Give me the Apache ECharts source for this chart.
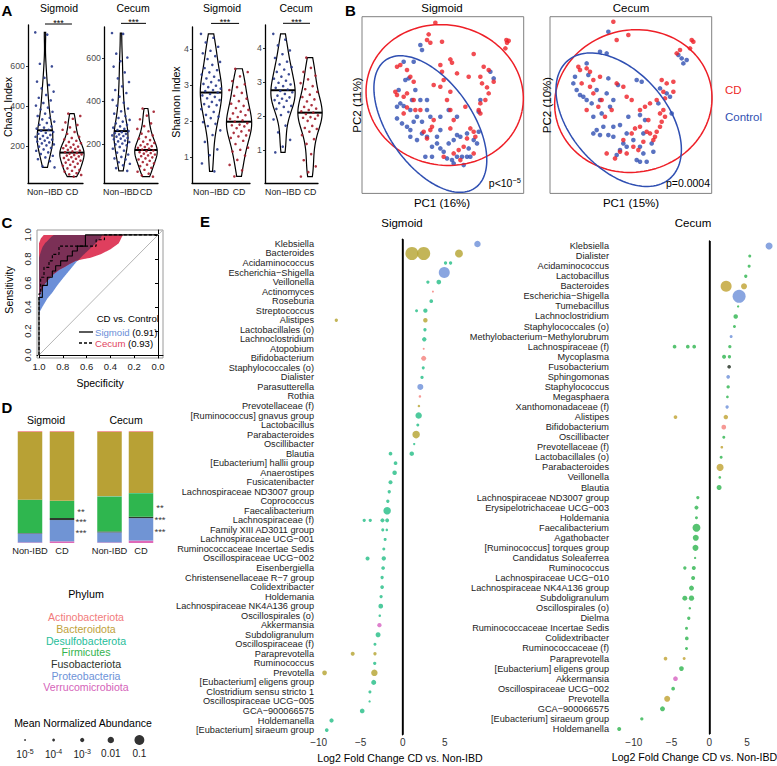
<!DOCTYPE html>
<html><head><meta charset="utf-8">
<script src="https://cdn.jsdelivr.net/npm/echarts@6/dist/echarts.min.js"></script>
<style>html,body{margin:0;padding:0;background:#fff}#c{width:777px;height:766px}</style>
</head><body><div id="c"></div>
<script>
// ================= DATA =================
const violinGroups = ['Non−IBD', 'CD'];
const chao1SigmoidNonIBD = [768,757,611,598,541,522,505,488,472,455,441,428,415,402,392,383,371,362,350,341,333,322,315,306,298,292,287,281,276,270,266,261,255,250,246,241,236,232,227,222,218,213,208,203,197,190,183,176,168,160,151,143,134,124,98,93];
const chao1SigmoidCD = [362,350,336,318,305,293,281,270,261,246,240,233,226,220,214,207,202,197,193,189,185,181,177,173,169,165,162,158,155,152,148,144,140,136,131,127,122,117,112,106,101,95,88,80,76,72,64,58,55,47];
const chao1CecumNonIBD = [716,712,620,602,585,560,533,505,488,468,451,437,420,405,392,378,365,352,341,330,321,312,304,296,289,282,276,270,265,260,255,250,247,245,240,237,234,228,225,222,216,212,209,202,198,194,186,178,169,160,151,140,133,128,115,108,101,88,75];
const chao1CecumCD = [365,350,332,315,296,283,270,259,248,240,232,225,218,211,205,199,194,190,186,182,178,174,170,166,162,158,155,151,147,143,138,133,128,122,116,110,104,97,89,80,71,62,54,48];
const shannonSigmoidNonIBD = [4.42,4.31,4.18,4.06,3.95,3.88,3.80,3.72,3.64,3.56,3.47,3.41,3.35,3.29,3.23,3.18,3.13,3.08,3.03,2.98,2.94,2.90,2.86,2.83,2.79,2.75,2.71,2.67,2.63,2.58,2.53,2.47,2.44,2.40,2.33,2.25,2.17,2.12,2.08,1.97,1.92,1.86,1.74,1.61,1.42,1.21,1.05,0.82,0.60];
const shannonSigmoidCD = [3.45,3.36,3.24,3.11,3.02,2.94,2.86,2.78,2.70,2.62,2.55,2.48,2.42,2.36,2.31,2.26,2.21,2.16,2.11,2.06,2.02,1.98,1.94,1.90,1.88,1.85,1.80,1.74,1.71,1.67,1.60,1.57,1.53,1.45,1.36,1.26,1.20,1.15,1.04,0.92,0.78,0.63,0.46];
const shannonCecumNonIBD = [4.42,4.25,4.08,3.93,3.82,3.71,3.60,3.52,3.44,3.37,3.30,3.23,3.16,3.10,3.04,2.98,2.93,2.88,2.83,2.78,2.74,2.70,2.65,2.60,2.55,2.51,2.47,2.45,2.38,2.30,2.27,2.21,2.12,2.03,1.90,1.72,1.52,1.30,1.10,0.93];
const shannonCecumCD = [3.72,3.58,3.42,3.30,3.19,3.08,2.97,2.88,2.79,2.71,2.63,2.56,2.49,2.43,2.37,2.32,2.27,2.22,2.18,2.14,2.10,2.06,2.02,1.97,1.95,1.92,1.86,1.79,1.71,1.65,1.62,1.54,1.44,1.32,1.18,1.05,0.88,0.70,0.52,0.35,0.22];
const chao1Ticks = [200, 400, 600];
const shannonTicks = [1, 2, 3, 4];

// PCoA scores (PC1, PC2), arbitrary units
const pcoaSigmoidCD = [[-22,247],[-42,212],[-37,187],[-47,195],[-2,190],[23,137],[28,127],[93,153],[191,195],[193,187],[198,193],[188,170],[-127,120],[-137,115],[-107,105],[-97,85],[-87,70],[-142,40],[-137,30],[-117,25],[-107,35],[-87,15],[-82,-15],[-67,-15],[-107,-7],[-117,-25],[-7,120],[-2,100],[-27,60],[3,75],[43,95],[-7,55],[23,40],[78,85],[113,85],[118,65],[133,53],[153,70],[138,35],[128,15],[113,5],[108,-15],[113,-25],[68,-5],[23,-15],[33,-45],[23,-70],[-27,-45],[-37,-75],[-32,-65],[83,-70],[93,-80],[98,-95],[73,-100],[63,-125],[48,-135],[33,-145],[3,-155],[53,-165],[93,-145],[-47,-100],[-57,-80],[13,15],[123,115],[138,105]];
const pcoaSigmoidControl = [[-67,180],[-62,165],[-117,130],[-87,130],[-112,75],[-102,80],[-132,45],[-127,5],[-137,-5],[-117,-3],[-92,15],[-97,-15],[-137,-40],[-122,-55],[-107,-65],[-87,-50],[-97,-95],[-77,-105],[-62,-85],[-47,-95],[-32,-125],[-17,-115],[-7,-130],[3,-140],[13,-160],[28,-165],[33,-175],[43,-155],[58,-155],[73,-155],[63,-180],[83,-155],[93,-105],[78,-130],[-62,-50],[-77,-35],[-47,-15],[-37,-35],[-67,15],[-82,45],[-47,15],[-17,-95],[-7,-75],[18,-15],[43,-35],[43,-90],[-7,-35],[73,-85],[108,-80],[103,-115],[113,15],[153,80],[143,100],[108,-20],[18,-115],[-32,-155],[-52,-155],[33,-105],[53,-95],[-97,-75]];
const pcoaCecumCD = [[-52,250],[-7,210],[-42,195],[138,155],[183,195],[188,190],[178,170],[148,165],[-157,115],[-152,105],[-132,110],[-122,100],[-112,75],[-147,65],[-122,55],[-92,85],[-112,35],[-87,15],[-97,-5],[-132,-15],[-77,-35],[-57,-15],[-42,65],[-22,55],[-12,25],[3,15],[28,-15],[43,-5],[58,5],[78,15],[93,75],[108,65],[98,40],[128,70],[128,40],[103,20],[98,-15],[88,-25],[103,-35],[93,-50],[88,-65],[78,-80],[73,-95],[58,-85],[48,-80],[13,-70],[3,-85],[-22,-105],[8,-125],[23,-135],[38,-110],[-32,-140],[-47,-160],[-12,-145],[-72,-145],[53,-45],[68,-105],[28,-65]];
const pcoaCecumControl = [[-67,220],[-92,160],[-72,155],[-132,125],[-127,90],[-172,65],[-162,45],[-152,30],[-142,25],[-132,15],[-117,5],[-167,85],[-102,45],[-67,80],[-38,60],[18,75],[33,70],[88,50],[108,35],[118,25],[123,-25],[83,5],[43,-45],[28,-30],[-7,-35],[-32,-60],[-52,-65],[-82,-65],[-102,-75],[-112,-85],[-92,-90],[-67,-90],[-52,-95],[-22,-115],[-12,-125],[-32,-135],[-42,-150],[28,-125],[38,-145],[48,-170],[68,-140],[63,-115],[38,-85],[8,-105],[-12,-85],[143,150],[153,140],[158,125],[168,135],[-112,-35],[-87,-25],[-62,-5],[18,-165],[28,-170],[-72,35],[-92,15],[-52,15]];
// 95% ellipses: [centerPC1, centerPC2, semiMajor, semiMinor, angleDeg]
const ellipseSigmoidCD = [6, 30, 237, 210, -12];
const ellipseSigmoidControl = [-37, -57, 234, 126, -55];
const ellipseCecumCD = [8, 12, 237, 213, 12];
const ellipseCecumControl = [-36, -44, 234, 144, -49];

// ROC: [specificity, sensitivity]
const rocSigmoid = [[1,0],[1,0.48],[0.972,0.48],[0.972,0.58],[0.93,0.58],[0.93,0.648],[0.888,0.648],[0.888,0.70],[0.86,0.70],[0.86,0.743],[0.818,0.743],[0.818,0.784],[0.762,0.784],[0.762,0.825],[0.72,0.825],[0.72,0.866],[0.678,0.866],[0.678,0.907],[0.61,0.907],[0.61,1],[0,1]];
const rocCecum = [[1,0],[1,0.51],[0.986,0.51],[0.986,0.648],[0.958,0.648],[0.958,0.73],[0.916,0.73],[0.916,0.784],[0.888,0.784],[0.888,0.838],[0.832,0.838],[0.832,0.907],[0.52,0.907],[0.52,0.96],[0.45,0.96],[0.45,1],[0,1]];
const ciSigmoidUpper = [[1,0.81],[0.985,0.86],[0.97,0.90],[0.95,0.93],[0.92,0.96],[0.89,0.99],[0.875,1],[0,1]];
const ciSigmoidLower = [[1,0.35],[0.972,0.40],[0.93,0.47],[0.888,0.52],[0.846,0.58],[0.79,0.65],[0.748,0.70],[0.69,0.77],[0.62,0.84],[0.55,0.905],[0.48,0.975],[0.47,1],[0,1]];
const ciCecumUpper = [[1,0.93],[0.985,0.97],[0.96,1],[0,1]];
const ciCecumLower = [[1,0.48],[0.985,0.52],[0.96,0.58],[0.92,0.63],[0.875,0.675],[0.83,0.71],[0.79,0.73],[0.74,0.76],[0.69,0.785],[0.62,0.80],[0.566,0.81],[0.48,0.84],[0.40,0.88],[0.33,0.93],[0.30,0.99],[0.29,1],[0,1]];
const aucSigmoid = '0.91', aucCecum = '0.93';
const rocTicks = [0, 0.2, 0.4, 0.6, 0.8, 1.0];

// Phylum composition (fractions)
const phylumNames = ['Actinobacteriota','Bacteroidota','Desulfobacterota','Firmicutes','Fusobacteriota','Proteobacteria','Verrucomicrobiota'];
const barGroups = ['Non-IBD', 'CD'];
const phylaSigmoidNonIBD = [0.008,0.605,0.003,0.295,0.004,0.080,0.005];
const phylaSigmoidCD = [0.008,0.615,0.002,0.152,0.018,0.190,0.015];
const phylaCecumNonIBD = [0.008,0.575,0.004,0.310,0.008,0.090,0.005];
const phylaCecumCD = [0.008,0.545,0.003,0.210,0.012,0.200,0.022];
const signifPhyla = [3, 4, 5];
const signifStars = ['**', '***', '***'];

// Size legend levels
const abundanceLevels = [1e-5, 1e-4, 1e-3, 0.01, 0.1];
const abundanceLabels = ['10{s|-5}', '10{s|-4}', '10{s|-3}', '0.01', '0.1'];

// Differential abundance: [taxonIndex, log2FC, meanAbundance, phylumCode]
const sigmoidTaxa = ['Klebsiella','Bacteroides','Acidaminococcus','Escherichia−Shigella','Veillonella','Actinomyces','Roseburia','Streptococcus','Alistipes','Lactobacillales (o)','Lachnoclostridium','Atopobium','Bifidobacterium','Staphylococcales (o)','Dialister','Parasutterella','Rothia','Prevotellaceae (f)','[Ruminococcus] gnavus group','Lactobacillus','Parabacteroides','Oscillibacter','Blautia','[Eubacterium] hallii group','Anaerostipes','Fusicatenibacter','Lachnospiraceae ND3007 group','Coprococcus','Faecalibacterium','Lachnospiraceae (f)','Family XIII AD3011 group','Lachnospiraceae UCG−001','Ruminococcaceae Incertae Sedis','Oscillospiraceae UCG−002','Eisenbergiella','Christensenellaceae R−7 group','Colidextribacter','Holdemania','Lachnospiraceae NK4A136 group','Oscillospirales (o)','Akkermansia','Subdoligranulum','Oscillospiraceae (f)','Paraprevotella','Ruminococcus','Prevotella','[Eubacterium] eligens group','Clostridium sensu stricto 1','Oscillospiraceae UCG−005','GCA−900066575','Holdemanella','[Eubacterium] siraeum group'];
const sigmoidPoints = [[0,8.9,0.01,'P'],[1,1.1,0.45,'B'],[1,2.5,0.45,'B'],[1,6.7,0.03,'B'],[2,5.1,2.7e-4,'F'],[2,5.7,2.7e-4,'F'],[3,4.95,0.18,'P'],[4,3.0,2.7e-4,'F'],[4,4.3,1.8e-3,'F'],[5,3.6,1.8e-5,'A'],[6,3.4,4.9e-4,'F'],[7,1.65,1.6e-4,'F'],[7,2.7,1.1e-3,'F'],[8,-7.9,2.7e-4,'B'],[8,2.7,1.4e-3,'B'],[9,2.65,2.7e-4,'F'],[10,2.57,1.1e-3,'F'],[11,2.5,1.8e-5,'A'],[12,2.5,2.5e-3,'A'],[13,2.45,1.6e-4,'F'],[14,2.3,2.7e-4,'F'],[15,2.1,6.8e-3,'P'],[16,2.05,6e-5,'A'],[17,1.93,6e-5,'B'],[18,1.9,0.01,'F'],[19,1.8,1.6e-4,'F'],[20,1.6,0.023,'B'],[21,1.37,3.8e-5,'F'],[22,1.08,1.4e-3,'F'],[22,-1.45,4.9e-4,'F'],[23,-0.85,4.9e-4,'F'],[24,-0.96,1.4e-3,'F'],[25,-1.45,7.5e-4,'F'],[26,-1.6,2.7e-4,'F'],[27,-1.77,2.7e-4,'F'],[28,-1.85,0.023,'F'],[29,-4.58,2.7e-4,'F'],[29,-3.86,2.7e-4,'F'],[29,-2.41,7.5e-4,'F'],[29,-1.85,7.5e-4,'F'],[30,-2.37,1.6e-4,'F'],[30,-1.89,6e-5,'F'],[31,-2.09,1.6e-4,'F'],[32,-2.25,1.6e-4,'F'],[33,-4.18,7.5e-4,'F'],[33,-2.25,1.1e-3,'F'],[34,-2.33,4.9e-4,'F'],[35,-2.45,2.7e-4,'F'],[36,-2.45,4.9e-4,'F'],[37,-2.57,2.7e-4,'F'],[38,-2.61,1.8e-3,'F'],[39,-2.73,6e-5,'F'],[40,-2.77,1.1e-3,'V'],[41,-2.93,2.5e-3,'F'],[42,-3.3,1.6e-4,'F'],[43,-5.95,7.5e-4,'B'],[43,-3.3,2.7e-4,'B'],[44,-3.33,2.7e-4,'F'],[45,-9.3,1.8e-3,'B'],[45,-3.37,0.01,'B'],[46,-3.45,2.5e-3,'F'],[47,-3.9,1.6e-4,'F'],[48,-3.94,3.8e-5,'F'],[49,-4.82,1.8e-3,'F'],[50,-8.47,1.1e-3,'F'],[51,-9.04,4.9e-4,'F']];
const cecumTaxa = ['Klebsiella','Dialister','Acidaminococcus','Lactobacillus','Bacteroides','Escherichia−Shigella','Tumebacillus','Lachnoclostridium','Staphylococcales (o)','Methylobacterium−Methylorubrum','Lachnospiraceae (f)','Mycoplasma','Fusobacterium','Sphingomonas','Staphylococcus','Megasphaera','Xanthomonadaceae (f)','Alistipes','Bifidobacterium','Oscillibacter','Prevotellaceae (f)','Lactobacillales (o)','Parabacteroides','Veillonella','Blautia','Lachnospiraceae ND3007 group','Erysipelotrichaceae UCG−003','Holdemania','Faecalibacterium','Agathobacter','[Ruminococcus] torques group','Candidatus Soleaferrea','Ruminococcus','Lachnospiraceae UCG−010','Lachnospiraceae NK4A136 group','Subdoligranulum','Oscillospirales (o)','Dielma','Ruminococcaceae Incertae Sedis','Colidextribacter','Ruminococcaceae (f)','Paraprevotella','[Eubacterium] eligens group','Akkermansia','Oscillospiraceae UCG−002','Prevotella','GCA−900066575','[Eubacterium] siraeum group','Holdemanella'];
const cecumPoints = [[0,7.92,0.016,'P'],[1,5.36,1.6e-4,'F'],[2,5.28,1.6e-4,'F'],[3,4.83,2.7e-4,'F'],[4,2.23,0.18,'B'],[4,4.6,6.8e-3,'B'],[5,3.95,0.45,'P'],[6,3.82,3.8e-5,'F'],[7,3.5,1.4e-3,'F'],[8,3.33,1.6e-4,'F'],[9,2.89,1.6e-4,'P'],[10,-4.6,4.9e-4,'F'],[10,-2.85,4.9e-4,'F'],[10,-2.0,4.9e-4,'F'],[10,2.72,2.7e-4,'F'],[11,1.96,7.5e-4,'F'],[11,2.67,2.7e-4,'F'],[12,2.63,4.9e-4,'U'],[13,2.5,4.9e-4,'P'],[14,2.5,2.7e-4,'F'],[15,2.4,9e-5,'F'],[16,2.36,2.7e-4,'P'],[17,-4.48,4.9e-4,'B'],[17,2.19,1.4e-3,'B'],[18,1.92,1.8e-3,'A'],[19,1.92,1.6e-4,'F'],[20,1.66,9e-5,'B'],[21,1.57,1.6e-4,'F'],[22,1.43,0.016,'B'],[23,1.39,9e-5,'F'],[24,1.3,2.5e-3,'F'],[25,-1.52,2.7e-4,'F'],[26,-1.7,7.5e-4,'F'],[27,-1.7,1.6e-4,'F'],[28,-1.7,0.03,'F'],[29,-1.79,6.8e-3,'F'],[30,-1.83,6.8e-3,'F'],[31,-1.88,3.8e-5,'F'],[32,-3.24,2.7e-4,'F'],[32,-2.05,7.5e-4,'F'],[33,-2.14,7.5e-4,'F'],[34,-2.36,2.5e-3,'F'],[35,-3.24,2.5e-3,'F'],[35,-2.36,3.5e-3,'F'],[36,-2.58,6e-5,'F'],[37,-2.72,2.7e-4,'F'],[38,-3.02,1.6e-4,'F'],[39,-2.98,4.9e-4,'F'],[40,-3.02,1.6e-4,'F'],[41,-5.8,4.9e-4,'B'],[41,-3.33,1.6e-4,'B'],[42,-3.69,1.8e-3,'F'],[43,-4.48,1.8e-3,'V'],[44,-4.79,4.9e-4,'F'],[45,-5.58,6.8e-3,'B'],[46,-6.2,2.5e-3,'F'],[47,-8.94,2.7e-4,'F'],[48,-11.94,7.5e-4,'F']];
const lfcTicks = [-10, -5, 0, 5];

// ================= STYLE / HELPERS =================
const F = "Arial, 'Liberation Sans', Helvetica, sans-serif";
const phylumIndex = {A:0, B:1, D:2, F:3, U:4, P:5, V:6};
const legendColors = ['#f27b7b','#c0a23a','#1fbd9a','#33b34d','#2b332b','#6d92d8','#d563b9'];
const barColors = ['#f09090','#b8a135','#1fbf98','#2fb64f','#2d3a2d','#7094d4','#e069b8'];
const sigmoidPalette = ['#f47f7a','#b4a22e','#1fbf98','#22bd85','#2a3528','#6b8fd8','#d660c0'];
const cecumPalette = ['#f47f7a','#bfa12f','#1fbf98','#2db44d','#1d2a1d','#6b8fd8','#d660c0'];
const sizeOf = a => 1.8 * Math.pow(1.53, Math.log10(a) + 5);

const grids = [], xAxes = [], yAxes = [], series = [], graphics = [];
function addGrid(g, x, y) {
  grids.push(Object.assign({outerBoundsMode: 'none', containLabel: false}, g));
  const i = grids.length - 1;
  xAxes.push(Object.assign({gridIndex: i}, x));
  yAxes.push(Object.assign({gridIndex: i}, y));
  return i;
}
function T(text, x, y, o) {
  o = o || {};
  graphics.push({type: 'text', x: x, y: y, rotation: o.rot || 0, z: 50,
    style: {text: text, fill: o.color || '#000', fontSize: o.size || 10, fontFamily: F,
      fontWeight: o.bold ? 'bold' : 'normal', align: o.align || 'center', verticalAlign: o.va || 'middle', rich: o.rich}});
}
function quantile(s, p) { const h = (s.length - 1) * p, lo = Math.floor(h); const hi = Math.min(lo + 1, s.length - 1); return s[lo] + (h - lo) * (s[hi] - s[lo]); }
function kde(vals, m) {
  const s = vals.slice().sort((a, b) => a - b), n = s.length;
  const mean = s.reduce((a, b) => a + b, 0) / n;
  const sd = Math.sqrt(s.reduce((a, b) => a + (b - mean) * (b - mean), 0) / (n - 1));
  const iqr = quantile(s, 0.75) - quantile(s, 0.25);
  const bw = 0.9 * Math.min(sd, iqr / 1.34) * Math.pow(n, -0.2);
  const out = [];
  for (let i = 0; i <= m; i++) {
    const y = s[0] + (s[n - 1] - s[0]) * i / m; let d = 0;
    for (const v of s) { const z = (y - v) / bw; d += Math.exp(-0.5 * z * z); }
    out.push([y, d / (n * bw * Math.sqrt(2 * Math.PI))]);
  }
  return {prof: out, median: quantile(s, 0.5)};
}
function interpProf(prof, y) {
  for (let i = 0; i < prof.length - 1; i++) if (y >= prof[i][0] && y <= prof[i + 1][0]) {
    const t = (y - prof[i][0]) / (prof[i + 1][0] - prof[i][0]); return prof[i][1] + t * (prof[i + 1][1] - prof[i][1]); }
  return 0;
}
const LBL = {hideOverlap: false, showMinLabel: true, showMaxLabel: true};

// ================= PANEL A: violins =================
const violinPanels = [
  {g: {left: 28, top: 25, width: 55, height: 158}, x: [0.37, 2.41], y: [15, 805], ticks: chao1Ticks, groups: [chao1SigmoidNonIBD, chao1SigmoidCD], sig: 810},
  {g: {left: 104, top: 27, width: 54, height: 156}, x: [0.32, 2.48], y: [18.6, 744], ticks: chao1Ticks, groups: [chao1CecumNonIBD, chao1CecumCD], sig: 761},
  {g: {left: 192, top: 27, width: 58, height: 156}, x: [0.32, 2.39], y: [0.278, 4.61], ticks: shannonTicks, groups: [shannonSigmoidNonIBD, shannonSigmoidCD], sig: 4.71},
  {g: {left: 265, top: 25, width: 53, height: 158}, x: [0.333, 2.296], y: [0.03, 4.68], ticks: shannonTicks, groups: [shannonCecumNonIBD, shannonCecumCD], sig: 4.73}
];
const pointColors = ['#27388a', '#a31d2b'];
violinPanels.forEach(p => {
  const gi = addGrid(p.g,
    {type: 'value', min: p.x[0], max: p.x[1], splitLine: {show: false},
     axisLine: {lineStyle: {color: '#000', width: 1.3}}, axisTick: {show: false},
     axisLabel: Object.assign({customValues: [1, 2], formatter: v => violinGroups[Math.round(v) - 1], color: '#1a1a1a', fontSize: 8.8, fontFamily: F, margin: 4}, LBL)},
    {type: 'value', min: p.y[0], max: p.y[1], splitLine: {show: false},
     axisLine: {show: true, lineStyle: {color: '#000', width: 1.3}},
     axisTick: {show: true, length: 2, customValues: p.ticks, lineStyle: {color: '#333'}},
     axisLabel: Object.assign({customValues: p.ticks, color: '#4d4d4d', fontSize: 8.8, fontFamily: F, margin: 3}, LBL)});
  const ks = p.groups.map(v => kde(v, 120));
  const maxD = Math.max(...ks.map(k => Math.max(...k.prof.map(q => q[1]))));
  const vio = ks.map(k => ({prof: k.prof.map(q => [q[0], 0.45 * q[1] / maxD]), median: k.median}));
  series.push({type: 'custom', xAxisIndex: gi, yAxisIndex: gi, clip: false, z: 2, silent: true,
    data: [[0, vio[0].median], [1, vio[1].median]],
    renderItem: (params, api) => {
      const g = api.value(0), v = vio[g], c = g + 1;
      const L = v.prof.map(q => api.coord([c - q[1], q[0]]));
      const R = v.prof.map(q => api.coord([c + q[1], q[0]])).reverse();
      const mw = interpProf(v.prof, v.median);
      const m1 = api.coord([c - mw, v.median]), m2 = api.coord([c + mw, v.median]);
      return {type: 'group', children: [
        {type: 'polygon', shape: {points: L.concat(R)}, style: {fill: 'rgba(255,255,255,0)', stroke: '#000', lineWidth: 1.2}},
        {type: 'line', shape: {x1: m1[0], y1: m1[1], x2: m2[0], y2: m2[1]}, style: {stroke: '#000', lineWidth: 2}}
      ]};
    }});
  p.groups.forEach((vals, g) => {
    series.push({type: 'scatter', xAxisIndex: gi, yAxisIndex: gi, z: 3, silent: true, symbolSize: 2.6,
      itemStyle: {color: pointColors[g], opacity: 0.9},
      data: vals.map((v, i) => [g + 1 + (((i * 0.6180339887 + 0.31 * g) % 1) * 2 - 1) * 0.36, v])});
  });
  series.push({type: 'custom', xAxisIndex: gi, yAxisIndex: gi, clip: false, silent: true, z: 4,
    data: [[1, 2, p.sig]],
    renderItem: (params, api) => {
      const a = api.coord([api.value(0), api.value(2)]), b = api.coord([api.value(1), api.value(2)]);
      return {type: 'group', children: [
        {type: 'line', shape: {x1: a[0], y1: a[1], x2: b[0], y2: b[1]}, style: {stroke: '#000', lineWidth: 1}},
        {type: 'text', x: (a[0] + b[0]) / 2, y: a[1] + 3, style: {text: '***', fontSize: 9, fontFamily: F, fill: '#000', align: 'center', verticalAlign: 'bottom'}}
      ]};
    }});
});

// ================= PANEL B: PCoA =================
function ellipsePts(e) {
  const [cx, cy, a, b, deg] = e, th = deg * Math.PI / 180, pts = [];
  for (let i = 0; i <= 120; i++) { const t = i / 120 * 2 * Math.PI;
    pts.push([cx + a * Math.cos(t) * Math.cos(th) - b * Math.sin(t) * Math.sin(th), cy + a * Math.cos(t) * Math.sin(th) + b * Math.sin(t) * Math.cos(th)]); }
  return pts;
}
const cdRed = '#ee1f27', ctlBlue = '#2f4fb2';
[[362, pcoaSigmoidCD, pcoaSigmoidControl, ellipseSigmoidCD, ellipseSigmoidControl],
 [550, pcoaCecumCD, pcoaCecumControl, ellipseCecumCD, ellipseCecumControl]].forEach(([left, cd, ctl, eCD, eCtl]) => {
  const gi = addGrid({left: left, top: 16.7, width: 161.7, height: 176.7, show: true, borderColor: '#808080', borderWidth: 1},
    {type: 'value', min: -242, max: 243, show: true, axisLine: {show: false}, axisTick: {show: false}, axisLabel: {show: false}, splitLine: {show: false}},
    {type: 'value', min: -265, max: 265, show: true, axisLine: {show: false}, axisTick: {show: false}, axisLabel: {show: false}, splitLine: {show: false}});
  series.push({type: 'scatter', xAxisIndex: gi, yAxisIndex: gi, symbolSize: 4.6, itemStyle: {color: ctlBlue}, data: ctl, silent: true});
  series.push({type: 'scatter', xAxisIndex: gi, yAxisIndex: gi, symbolSize: 4.6, itemStyle: {color: cdRed}, data: cd, silent: true});
  series.push({type: 'line', xAxisIndex: gi, yAxisIndex: gi, showSymbol: false, silent: true, lineStyle: {color: cdRed, width: 1.5}, data: ellipsePts(eCD)});
  series.push({type: 'line', xAxisIndex: gi, yAxisIndex: gi, showSymbol: false, silent: true, lineStyle: {color: ctlBlue, width: 1.5}, data: ellipsePts(eCtl)});
});

// ================= PANEL C: ROC =================
function interpDesc(arr, s) {
  for (let i = 0; i < arr.length - 1; i++) { const [s0, v0] = arr[i], [s1, v1] = arr[i + 1];
    if (s <= s0 && s >= s1) { if (s0 === s1) return Math.max(v0, v1); return v0 + (v1 - v0) * (s - s0) / (s1 - s0); } }
  return arr[arr.length - 1][1];
}
const rocX = [-0.042, 1.0168], rocY = [-0.0246, 1.041];
const rocGi = addGrid({left: 37, top: 230, width: 126, height: 128, show: true, borderColor: '#9a9a9a', borderWidth: 1},
  {type: 'value', inverse: true, min: rocX[0], max: rocX[1], splitLine: {show: false},
   axisLine: {lineStyle: {color: '#000', width: 1}}, axisTick: {customValues: rocTicks, length: 3, lineStyle: {color: '#000'}},
   axisLabel: Object.assign({customValues: rocTicks, formatter: v => v.toFixed(1), color: '#1a1a1a', fontSize: 9.5, fontFamily: F, margin: 3}, LBL)},
  {type: 'value', min: rocY[0], max: rocY[1], splitLine: {show: false},
   axisLine: {show: true, lineStyle: {color: '#000', width: 1}}, axisTick: {show: true, customValues: rocTicks, length: 3, lineStyle: {color: '#000'}},
   axisLabel: Object.assign({customValues: rocTicks, formatter: v => v.toFixed(1), rotate: 90, color: '#1a1a1a', fontSize: 9.5, fontFamily: F, margin: 5}, LBL)});
series.push({type: 'custom', xAxisIndex: rocGi, yAxisIndex: rocGi, silent: true, z: 1, data: [[0.5, 0.5]],
  renderItem: (params, api) => {
    const specs = []; for (let s = 1; s >= -0.0001; s -= 0.002) specs.push(Math.max(s, 0));
    const poly = (up, lo) => specs.map(s => api.coord([s, up(s)])).concat(specs.slice().reverse().map(s => api.coord([s, lo(s)])));
    const bU = s => interpDesc(ciSigmoidUpper, s), bL = s => interpDesc(ciSigmoidLower, s);
    const rU = s => interpDesc(ciCecumUpper, s), rL = s => interpDesc(ciCecumLower, s);
    return {type: 'group', children: [
      {type: 'polygon', shape: {points: poly(bU, bL)}, style: {fill: '#6b8fd8'}},
      {type: 'polygon', shape: {points: poly(rU, rL)}, style: {fill: '#df3f5e'}},
      {type: 'polygon', shape: {points: poly(s => Math.min(bU(s), rU(s)), s => Math.min(Math.max(bL(s), rL(s)), Math.min(bU(s), rU(s))))}, style: {fill: '#7b3056'}}
    ]};
  }});
series.push({type: 'line', xAxisIndex: rocGi, yAxisIndex: rocGi, showSymbol: false, silent: true, z: 2,
  lineStyle: {color: '#b5b5b5', width: 1}, data: [[rocX[1], 1 - rocX[1]], [rocX[0], 1 - rocX[0]]]});
series.push({type: 'line', xAxisIndex: rocGi, yAxisIndex: rocGi, showSymbol: false, silent: true, z: 3,
  lineStyle: {color: '#000', width: 1.1}, data: rocSigmoid});
series.push({type: 'line', xAxisIndex: rocGi, yAxisIndex: rocGi, showSymbol: false, silent: true, z: 3,
  lineStyle: {color: '#000', width: 1.1, type: [3, 2]}, data: rocCecum});

// ================= PANEL D: stacked bars =================
[[14, 64, phylaSigmoidNonIBD, phylaSigmoidCD, 'sig'], [93.75, 63, phylaCecumNonIBD, phylaCecumCD, 'cec']].forEach(([left, width, non, cd, stk]) => {
  const gi = addGrid({left: left, top: 431, width: width, height: 112},
    {type: 'category', data: barGroups, axisLine: {show: false}, axisTick: {show: false},
     axisLabel: Object.assign({interval: 0, color: '#1a1a1a', fontSize: 9.3, fontFamily: F, margin: 3}, LBL)},
    {type: 'value', min: 0, max: 1, show: false});
  for (let k = phylumNames.length - 1; k >= 0; k--) {
    series.push({type: 'bar', name: phylumNames[k], xAxisIndex: gi, yAxisIndex: gi, stack: stk, barWidth: 24.5, silent: true,
      itemStyle: {color: barColors[k]}, data: [non[k], cd[k]]});
  }
  const starData = signifPhyla.map((k, j) => {
    let below = 0; for (let q = k + 1; q < phylumNames.length; q++) below += cd[q];
    return {value: [1, below + cd[k] / 2], label: {show: true, formatter: signifStars[j]}};
  });
  series.push({type: 'scatter', xAxisIndex: gi, yAxisIndex: gi, symbolSize: 2, itemStyle: {color: 'rgba(0,0,0,0)'}, silent: true, z: 5,
    label: {show: true, position: [20, 3], align: 'center', verticalAlign: 'middle', fontSize: 9.5, fontFamily: F, color: '#000'},
    labelLayout: {hideOverlap: false}, data: starData});
});

// size legend
const szGi = addGrid({left: 10.7, top: 735, width: 143, height: 10},
  {type: 'category', data: abundanceLabels, axisLine: {show: false}, axisTick: {show: false},
   axisLabel: Object.assign({interval: 0, color: '#1a1a1a', fontSize: 10, fontFamily: F, margin: 3, rich: {s: {fontSize: 7, verticalAlign: 'top', fontFamily: F, color: '#1a1a1a', padding: [0, 0, 5, 0]}}}, LBL)},
  {type: 'value', min: -1, max: 1, show: false});
series.push({type: 'scatter', xAxisIndex: szGi, yAxisIndex: szGi, silent: true, itemStyle: {color: '#000'},
  data: abundanceLevels.map((a, i) => ({value: [i, 0], symbolSize: sizeOf(a)}))});

// ================= PANEL E: dot plots =================
[[317, 239.2, 166, 495.6, -10.2, 9.56, sigmoidTaxa, sigmoidPoints, sigmoidPalette],
 [612, 241, 165, 493, -12.89, 8.97, cecumTaxa, cecumPoints, cecumPalette]].forEach(([left, top, width, height, xmin, xmax, taxa, pts, pal]) => {
  const gi = addGrid({left: left, top: top, width: width, height: height},
    {type: 'value', min: xmin, max: xmax, splitLine: {show: false},
     axisLine: {lineStyle: {color: '#000', width: 1.3}}, axisTick: {customValues: lfcTicks, length: 3, lineStyle: {color: '#333'}},
     axisLabel: Object.assign({customValues: lfcTicks, formatter: v => (v < 0 ? '−' + Math.abs(v) : String(v)), color: '#333', fontSize: 10, fontFamily: F, margin: 3}, LBL),
     name: 'Log2 Fold Change CD vs. Non-IBD', nameLocation: 'middle', nameGap: 17, nameTextStyle: {color: '#000', fontSize: 10.6, fontFamily: F}},
    {type: 'category', data: taxa, inverse: true, splitLine: {show: false},
     axisLine: {lineStyle: {color: '#000', width: 1.3}}, axisTick: {alignWithLabel: true, length: 2.5, lineStyle: {color: '#333'}},
     axisLabel: Object.assign({interval: 0, color: '#222', fontSize: 9.2, fontFamily: F, margin: 3}, LBL)});
  const sorted = pts.slice().sort((a, b) => b[2] - a[2]);
  series.push({type: 'scatter', xAxisIndex: gi, yAxisIndex: gi, silent: true, z: 3,
    data: sorted.map(p => ({value: [p[1], p[0]], symbolSize: sizeOf(p[2]), itemStyle: {color: pal[phylumIndex[p[3]]]}})),
    markLine: {silent: true, symbol: ['none', 'none'], label: {show: false}, lineStyle: {color: '#000', width: 1.5, type: 'solid'}, data: [{xAxis: 0}]}});
});

// ================= TEXT =================
T('A', 7, 10, {size: 15, bold: true}); T('B', 350.5, 10, {size: 15, bold: true});
T('C', 7, 222, {size: 15, bold: true}); T('D', 7, 407, {size: 15, bold: true}); T('E', 205, 221, {size: 15, bold: true});
T('Sigmoid', 59, 8, {size: 10.5}); T('Cecum', 133, 8, {size: 10.5}); T('Sigmoid', 222, 8, {size: 10.5}); T('Cecum', 296, 8, {size: 10.5});
T('Chao1 Index', 8, 107, {size: 10.6, rot: Math.PI / 2}); T('Shannon Index', 176, 102, {size: 10.6, rot: Math.PI / 2});
T('Sigmoid', 442, 8, {size: 11.5}); T('Cecum', 631, 8, {size: 11.5});
T('PC1 (16%)', 442, 203, {size: 11.5}); T('PC1 (15%)', 631, 203, {size: 11.5});
T('PC2 (11%)', 357, 105, {size: 11.5, rot: Math.PI / 2}); T('PC2 (10%)', 547, 105, {size: 11.5, rot: Math.PI / 2});
T('CD', 725, 90, {size: 11.5, color: cdRed, align: 'left'}); T('Control', 725, 117, {size: 11.5, color: ctlBlue, align: 'left'});
T('p<10{s|−5}', 521, 183, {size: 10.5, align: 'right', rich: {s: {fontSize: 7.5, fontFamily: F, verticalAlign: 'top', padding: [0, 0, 5, 0], fill: '#000'}}});
T('p=0.0004', 710, 183, {size: 10.5, align: 'right'});
T('Sensitivity', 9, 290, {size: 10.5, rot: Math.PI / 2}); T('Specificity', 100, 383, {size: 10.5});
T('CD vs. Control', 159, 318, {size: 9.6, align: 'right'});
graphics.push({type: 'line', z: 50, shape: {x1: 79, y1: 332, x2: 93, y2: 332}, style: {stroke: '#000', lineWidth: 1.3}});
graphics.push({type: 'line', z: 50, shape: {x1: 79, y1: 343, x2: 93, y2: 343}, style: {stroke: '#000', lineWidth: 1.3, lineDash: [3, 2]}});
T('{b|Sigmoid} (' + aucSigmoid + ')', 95, 332, {size: 9.6, align: 'left', rich: {b: {fill: '#6b8fd8', fontSize: 9.6, fontFamily: F}}});
T('{r|Cecum} (' + aucCecum + ')', 95, 343, {size: 9.6, align: 'left', rich: {r: {fill: '#df3f5e', fontSize: 9.6, fontFamily: F}}});
T('Sigmoid', 46, 420, {size: 10.5}); T('Cecum', 126, 420, {size: 10.5});
T('Phylum', 86, 594, {size: 10.7});
const legendY = [617, 629, 641, 652, 664, 676, 687];
phylumNames.forEach((n, i) => T(n, 86, legendY[i], {size: 10.6, color: legendColors[i]}));
T('Mean Normalized Abundance', 83, 723, {size: 10.5});
T('Sigmoid', 402, 223, {size: 11.5}); T('Cecum', 693, 223, {size: 11.5});

const chart = echarts.init(document.getElementById('c'), null, {renderer: 'svg'});
chart.setOption({animation: false, backgroundColor: '#fff', textStyle: {fontFamily: F},
  grid: grids, xAxis: xAxes, yAxis: yAxes, series: series, graphic: graphics});
</script></body></html>
